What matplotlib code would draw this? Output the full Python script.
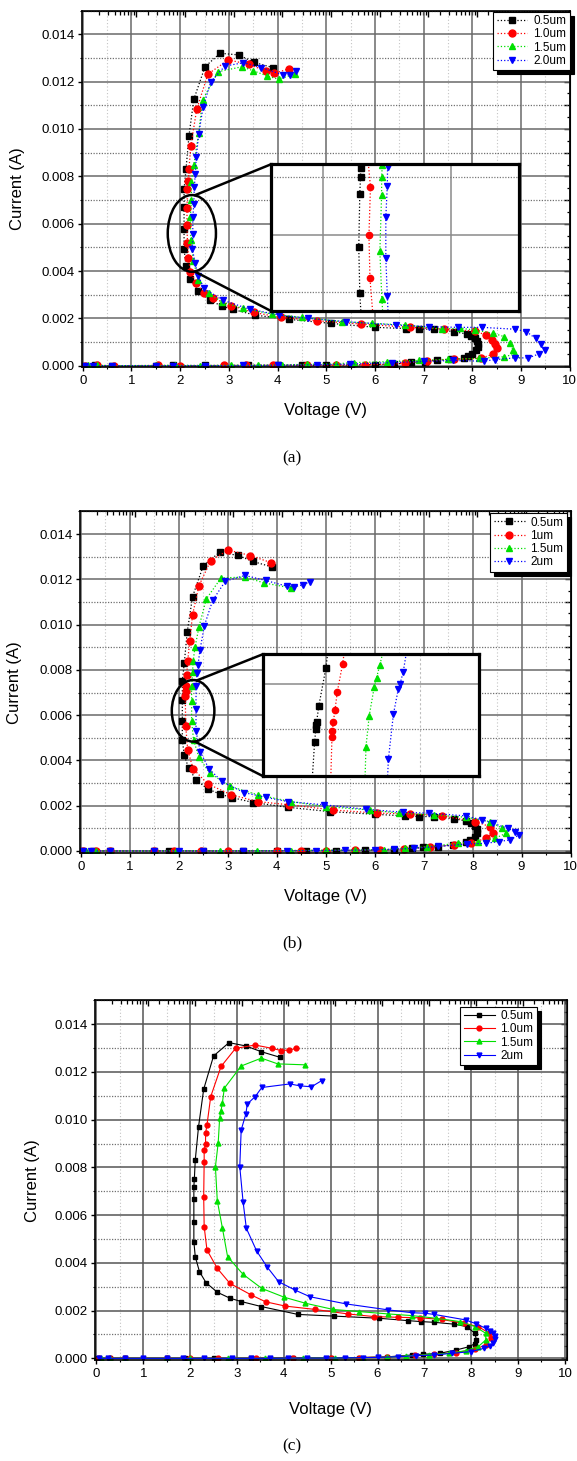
import numpy as np
import matplotlib
matplotlib.use('Agg')
import matplotlib.pyplot as plt
from matplotlib.patches import Ellipse, ConnectionPatch
from matplotlib.ticker import MultipleLocator, FixedLocator, NullFormatter, FormatStrFormatter

plt.rcParams['font.family'] = ['Liberation Sans', 'DejaVu Sans']

# ---------------- data (voltage in V, current in mA) ----------------
labels_a = ['0.5um', '1.0um', '1.5um', '2.0um']
labels_b = ['0.5um', '1um', '1.5um', '2um']
labels_c = ['0.5um', '1.0um', '1.5um', '2um']

colors = ['#000000', '#ff0000', '#00e000', '#0000ff']
markers = ['s', 'o', '^', 'v']

# panel (a)
a_black_v = [0.03, 0.25, 0.6, 1.5, 1.85, 2.5, 3.4, 4.0, 4.5, 5.0, 5.5, 6.0, 6.4, 6.75, 7.03, 7.28, 7.56, 7.83, 7.92, 8.0,
             8.07, 8.12, 8.12, 8.1, 8.05, 7.98, 7.9, 7.62, 7.22, 6.90, 6.63, 6.01, 5.09, 4.23, 3.53, 3.08, 2.85, 2.61,
             2.37, 2.20, 2.12, 2.08, 2.08, 2.08, 2.08, 2.12, 2.18, 2.28, 2.51, 2.82, 3.20, 3.51, 3.91]
a_black_i = [0.0, 0.01, 0.0, 0.0, 0.01, 0.01, 0.01, 0.02, 0.02, 0.02, 0.03, 0.05, 0.07, 0.14, 0.17, 0.24, 0.27, 0.31,
             0.40, 0.50, 0.65, 0.80, 0.92, 1.05, 1.15, 1.25, 1.33, 1.44, 1.54, 1.55, 1.57, 1.62, 1.79, 1.96, 2.14, 2.38,
             2.52, 2.77, 3.17, 3.65, 4.23, 4.92, 5.76, 6.72, 7.46, 8.30, 9.70, 11.25, 12.63, 13.2, 13.13, 12.82, 12.59]
a_red_v = [0.05, 0.3, 0.65, 1.55, 2.0, 2.9, 3.35, 3.9, 4.6, 5.2, 5.8, 6.3, 6.61, 7.07, 7.63, 8.17, 8.43, 8.50, 8.46,
           8.40, 8.28, 8.05, 7.41, 6.73, 5.71, 4.81, 4.08, 3.51, 3.05, 2.68, 2.49, 2.32, 2.21, 2.17, 2.15, 2.14, 2.14,
           2.15, 2.17, 2.18, 2.22, 2.34, 2.57, 2.99, 3.41, 3.76, 3.93, 4.23]
a_red_i = [0.0, 0.01, 0.0, 0.01, 0.0, 0.01, 0.02, 0.02, 0.03, 0.03, 0.04, 0.06, 0.10, 0.21, 0.27, 0.31, 0.49, 0.73, 0.90,
           1.08, 1.30, 1.46, 1.55, 1.62, 1.76, 1.90, 2.04, 2.25, 2.54, 2.85, 3.08, 3.51, 3.97, 4.56, 5.20, 5.94, 6.65,
           7.45, 7.80, 8.30, 9.30, 10.83, 12.32, 12.92, 12.73, 12.45, 12.35, 12.54]
a_green_v = [0.1, 0.3, 0.6, 1.5, 1.9, 2.4, 3.05, 3.6, 4.1, 4.6, 5.2, 5.56, 6.24, 6.9, 7.5, 8.13, 8.65, 8.88, 8.84, 8.77,
             8.65, 8.43, 8.05, 7.75, 7.37, 6.61, 5.93, 5.33, 4.51, 3.89, 3.29, 2.85, 2.59, 2.37, 2.27, 2.22, 2.21, 2.23,
             2.23, 2.28, 2.38, 2.46, 2.78, 3.27, 3.50, 3.79, 4.02, 4.35]
a_green_i = [0.01, 0.02, 0.0, 0.01, 0.02, 0.0, 0.02, 0.02, 0.03, 0.06, 0.08, 0.13, 0.17, 0.22, 0.27, 0.31, 0.38, 0.49,
             0.66, 0.94, 1.23, 1.37, 1.51, 1.58, 1.55, 1.72, 1.79, 1.86, 2.04, 2.18, 2.42, 2.70, 3.06, 3.62, 4.44, 5.30,
             6.30, 7.00, 7.77, 8.48, 9.82, 11.22, 12.42, 12.63, 12.46, 12.24, 12.10, 12.32]
a_blue_v = [0.05, 0.2, 0.6, 1.5, 1.85, 2.5, 3.3, 4.0, 4.8, 5.48, 6.35, 7.0, 7.6, 8.23, 8.47, 8.88, 9.15, 9.37, 9.49,
            9.41, 9.30, 9.11, 8.88, 8.20, 7.71, 7.11, 6.43, 5.40, 4.63, 4.04, 3.44, 2.87, 2.49, 2.37, 2.31, 2.25, 2.26,
            2.26, 2.28, 2.29, 2.31, 2.33, 2.38, 2.47, 2.63, 2.92, 3.30, 3.67, 4.12, 4.25, 4.38]
a_blue_i = [0.0, 0.0, 0.0, 0.0, 0.0, 0.0, 0.01, 0.02, 0.04, 0.07, 0.13, 0.18, 0.22, 0.19, 0.26, 0.33, 0.33, 0.50, 0.66,
            0.90, 1.15, 1.44, 1.54, 1.62, 1.62, 1.65, 1.72, 1.86, 2.00, 2.14, 2.38, 2.77, 3.27, 3.79, 4.32, 4.92, 5.55,
            6.27, 6.83, 7.54, 8.08, 8.80, 9.77, 10.92, 12.00, 12.66, 12.80, 12.59, 12.28, 12.30, 12.45]

# panel (b)
b_black_v = [0.03, 0.25, 0.6, 1.5, 1.8, 2.5, 3.3, 4.0, 4.6, 5.2, 5.8, 6.4, 6.77, 6.99, 7.29, 7.59, 7.86, 7.95, 8.05,
             8.1, 8.1, 8.05, 7.97, 7.86, 7.62, 7.22, 6.90, 6.62, 6.00, 5.08, 4.23, 3.52, 3.08, 2.84, 2.59, 2.35, 2.20,
             2.11, 2.07, 2.07, 2.07, 2.07, 2.11, 2.17, 2.28, 2.50, 2.83, 3.20, 3.51, 3.91]
b_black_i = [0.0, 0.0, 0.0, 0.0, 0.01, 0.0, 0.01, 0.01, 0.02, 0.02, 0.03, 0.06, 0.12, 0.16, 0.19, 0.27, 0.41, 0.48,
             0.60, 0.78, 0.95, 1.10, 1.22, 1.33, 1.42, 1.52, 1.52, 1.55, 1.62, 1.74, 1.93, 2.14, 2.36, 2.51, 2.74, 3.14,
             3.66, 4.22, 4.91, 5.72, 6.68, 7.49, 8.30, 9.67, 11.24, 12.61, 13.19, 13.06, 12.79, 12.54]
b_red_v = [0.05, 0.3, 0.6, 1.5, 1.9, 2.45, 3.0, 4.0, 4.5, 5.0, 5.6, 6.1, 6.6, 7.14, 7.63, 7.97, 8.27, 8.42, 8.35, 8.05,
           7.37, 6.73, 6.05, 5.15, 4.25, 3.61, 3.07, 2.59, 2.29, 2.18, 2.14, 2.13, 2.14, 2.14, 2.16, 2.18, 2.22, 2.28,
           2.41, 2.65, 3.01, 3.46, 3.89]
b_red_i = [0.0, 0.0, 0.0, 0.0, 0.0, 0.01, 0.0, 0.01, 0.02, 0.02, 0.03, 0.05, 0.08, 0.19, 0.27, 0.34, 0.56, 0.78, 1.08,
           1.30, 1.55, 1.64, 1.67, 1.81, 2.04, 2.18, 2.48, 2.96, 3.63, 4.47, 5.50, 6.85, 7.05, 7.30, 7.79, 8.38, 9.26,
           10.44, 11.72, 12.83, 13.29, 13.05, 12.73]
b_green_v = [0.1, 0.3, 0.6, 1.5, 1.95, 2.85, 3.6, 4.3, 5.0, 5.6, 6.2, 6.62, 7.07, 7.71, 8.12, 8.46, 8.68, 8.61, 8.35,
             7.86, 7.22, 6.50, 5.90, 5.00, 4.29, 3.61, 3.05, 2.63, 2.41, 2.30, 2.26, 2.26, 2.26, 2.28, 2.29, 2.33, 2.41,
             2.56, 2.86, 3.35, 3.74, 4.29]
b_green_i = [0.0, 0.0, 0.0, 0.0, 0.01, 0.01, 0.01, 0.02, 0.03, 0.04, 0.06, 0.12, 0.19, 0.34, 0.41, 0.56, 0.78, 1.00,
             1.30, 1.49, 1.59, 1.67, 1.81, 1.96, 2.18, 2.48, 2.85, 3.44, 4.13, 4.90, 5.72, 6.61, 7.27, 7.90, 8.38, 9.00,
             9.90, 11.13, 12.06, 12.10, 11.84, 11.62]
b_blue_v = [0.05, 0.2, 0.6, 1.5, 2.0, 2.5, 3.3, 4.2, 4.8, 5.4, 6.0, 6.4, 6.8, 7.3, 7.89, 8.27, 8.53, 8.76, 8.95, 8.86,
            8.72, 8.42, 8.20, 7.86, 7.11, 6.58, 5.83, 4.96, 4.23, 3.77, 3.33, 2.88, 2.61, 2.44, 2.35, 2.35, 2.35, 2.37,
            2.39, 2.43, 2.52, 2.69, 2.95, 3.35, 3.77, 4.20, 4.36, 4.53, 4.68]
b_blue_i = [0.0, 0.0, 0.0, 0.0, 0.0, 0.0, 0.0, 0.01, 0.02, 0.03, 0.05, 0.08, 0.12, 0.20, 0.31, 0.34, 0.41, 0.49, 0.70,
            0.85, 1.00, 1.22, 1.37, 1.55, 1.67, 1.71, 1.84, 2.04, 2.18, 2.37, 2.58, 3.07, 3.64, 4.37, 5.28, 6.28, 7.27,
            7.86, 8.22, 8.86, 9.95, 11.07, 11.92, 12.17, 11.95, 11.70, 11.67, 11.76, 11.89]

# panel (c)
c_black_v = [0.03, 0.3, 0.6, 1.5, 1.9, 2.5, 3.3, 4.2, 5.0, 5.6, 6.2, 6.74, 6.98, 7.33, 7.68, 7.96, 8.08, 8.11, 8.08,
             7.9, 7.64, 7.21, 6.92, 6.65, 6.03, 5.07, 4.30, 3.52, 3.09, 2.85, 2.58, 2.34, 2.20, 2.11, 2.08, 2.08, 2.08,
             2.08, 2.09, 2.11, 2.18, 2.29, 2.50, 2.83, 3.19, 3.52, 3.91]
c_black_i = [0.0, 0.0, 0.0, 0.0, 0.0, 0.0, 0.0, 0.01, 0.02, 0.03, 0.06, 0.14, 0.17, 0.21, 0.35, 0.49, 0.62, 0.77, 1.05,
             1.33, 1.43, 1.51, 1.54, 1.58, 1.68, 1.77, 1.84, 2.17, 2.38, 2.52, 2.77, 3.17, 3.63, 4.26, 4.89, 5.73, 6.66,
             7.20, 7.50, 8.31, 9.71, 11.28, 12.67, 13.23, 13.09, 12.85, 12.62]
c_red_v = [0.05, 0.3, 0.6, 1.5, 2.0, 2.6, 3.4, 4.2, 5.0, 5.6, 6.2, 6.8, 7.2, 7.68, 8.08, 8.31, 8.43, 8.39, 8.15, 7.84,
           7.37, 6.90, 6.43, 5.92, 5.37, 4.66, 4.03, 3.61, 3.31, 2.85, 2.58, 2.36, 2.30, 2.29, 2.30, 2.30, 2.33, 2.33,
           2.36, 2.44, 2.66, 2.97, 3.39, 3.75, 3.94, 4.11, 4.27]
c_red_i = [0.0, 0.0, 0.0, 0.0, 0.0, 0.0, 0.0, 0.01, 0.02, 0.03, 0.06, 0.12, 0.17, 0.24, 0.38, 0.56, 0.84, 1.05, 1.33,
           1.47, 1.63, 1.70, 1.72, 1.75, 1.86, 2.05, 2.19, 2.37, 2.65, 3.14, 3.77, 4.54, 5.52, 6.78, 8.24, 8.73, 9.00,
           9.43, 9.78, 10.97, 12.23, 12.99, 13.13, 12.99, 12.90, 12.92, 12.99]
c_green_v = [0.1, 0.3, 0.6, 1.5, 2.0, 2.8, 3.6, 4.4, 5.1, 5.7, 6.2, 6.6, 7.1, 7.53, 7.88, 8.15, 8.31, 8.31, 8.08, 7.76,
             7.25, 6.74, 6.23, 5.60, 5.05, 4.46, 4.01, 3.53, 3.13, 2.80, 2.69, 2.58, 2.54, 2.60, 2.63, 2.66, 2.69, 2.73,
             3.09, 3.52, 3.87, 4.45]
c_green_i = [0.0, 0.0, 0.0, 0.0, 0.0, 0.0, 0.0, 0.01, 0.02, 0.03, 0.05, 0.10, 0.16, 0.21, 0.32, 0.49, 0.77, 1.05, 1.33,
             1.54, 1.68, 1.79, 1.86, 1.96, 2.05, 2.31, 2.56, 2.93, 3.52, 4.26, 5.45, 6.61, 8.03, 9.04, 10.06, 10.38,
             10.72, 11.32, 12.25, 12.58, 12.34, 12.30]
c_blue_v = [0.05, 0.25, 0.6, 1.0, 1.5, 1.85, 2.3, 2.9, 3.3, 3.7, 4.1, 4.5, 4.9, 5.3, 5.7, 6.0, 6.43, 6.82, 7.21, 7.60,
            7.99, 8.27, 8.40, 8.47, 8.51, 8.50, 8.47, 8.40, 8.31, 8.10, 7.88, 7.21, 7.01, 6.74, 6.23, 5.33, 4.56, 4.24,
            3.89, 3.64, 3.42, 3.20, 3.13, 3.06, 3.09, 3.19, 3.22, 3.39, 3.53, 4.13, 4.34, 4.59, 4.81]
c_blue_i = [0.0, 0.0, 0.0, 0.0, 0.0, 0.0, 0.0, 0.0, 0.0, 0.0, 0.01, 0.01, 0.01, 0.02, 0.03, 0.04, 0.07, 0.11, 0.14, 0.21,
            0.28, 0.42, 0.52, 0.63, 0.80, 0.95, 1.05, 1.16, 1.26, 1.45, 1.61, 1.84, 1.89, 1.91, 2.03, 2.28, 2.58, 2.86,
            3.21, 3.84, 4.50, 5.45, 6.57, 8.03, 9.57, 10.24, 10.66, 10.97, 11.35, 11.50, 11.42, 11.38, 11.64]

# zoomed insets
ia_black_v = [2.115, 2.112, 2.111, 2.108, 2.104, 2.108, 2.114]
ia_black_i = [7.36, 7.13, 6.93, 6.56, 5.39, 4.39, 3.84]
ia_red_v = [2.140, 2.151, 2.145, 2.149, 2.162]
ia_red_i = [7.36, 6.71, 5.65, 4.71, 3.84]
ia_green_v = [2.200, 2.199, 2.196, 2.196, 2.189, 2.197, 2.202]
ia_green_i = [7.36, 7.18, 6.93, 6.54, 5.30, 4.26, 3.84]
ia_blue_v = [2.222, 2.220, 2.219, 2.213, 2.213, 2.219, 2.223]
ia_blue_i = [7.36, 7.15, 6.73, 6.05, 5.15, 4.33, 3.84]

ib_black_v = [2.121, 2.111, 2.083, 2.074, 2.072, 2.071, 2.066, 2.056]
ib_black_i = [7.66, 7.20, 6.36, 6.00, 5.93, 5.84, 5.55, 4.67]
ib_red_v = [2.187, 2.177, 2.156, 2.147, 2.140, 2.137, 2.135, 2.130]
ib_red_i = [7.66, 7.28, 6.66, 6.26, 5.99, 5.80, 5.67, 4.67]
ib_green_v = [2.342, 2.325, 2.312, 2.303, 2.283, 2.270, 2.266]
ib_green_i = [7.66, 7.26, 6.98, 6.78, 6.14, 5.45, 4.67]
ib_blue_v = [2.434, 2.418, 2.405, 2.398, 2.379, 2.359, 2.355]
ib_blue_i = [7.66, 7.11, 6.84, 6.72, 6.17, 5.17, 4.67]

W, H = 577, 1461
fig = plt.figure(figsize=(W / 100, H / 100), dpi=100)


def px_axes(left, top, right, bottom):
    return fig.add_axes([left / W, 1 - bottom / H, (right - left) / W, (bottom - top) / H])


def style(ax, xlim, ylim, major_c='#6a6a6a'):
    ax.set_xlim(*xlim)
    ax.set_ylim(*ylim)
    ax.xaxis.set_major_locator(MultipleLocator(1))
    ax.xaxis.set_minor_locator(MultipleLocator(0.5))
    ax.yaxis.set_major_locator(MultipleLocator(0.002))
    ax.yaxis.set_minor_locator(MultipleLocator(0.001))
    ax.yaxis.set_major_formatter(FormatStrFormatter('%.3f'))
    ax.xaxis.set_major_formatter(FormatStrFormatter('%d'))
    ax.grid(which='major', color=major_c, lw=1.1, ls='-')
    ax.grid(which='minor', axis='x', color='#c4c4c4', lw=0.8, ls=(0, (1, 2)))
    ax.grid(which='minor', axis='y', color='#707070', lw=0.9, ls=(0, (1, 1.2)))
    ax.set_axisbelow(True)
    ax.tick_params(which='major', direction='out', length=3, width=1, labelsize=9.5, pad=2.5)
    ax.tick_params(which='minor', direction='out', length=1.5, width=0.8)
    for s in ax.spines.values():
        s.set_linewidth(1.2)
    top = ax.secondary_xaxis('top')
    top_major = [i + 1.1 for i in range(9)]
    top_minor = [i + 1.1 * np.log10(k) for i in range(10) for k in range(2, 10) if i + 1.1 * np.log10(k) < 10]
    top.xaxis.set_major_locator(FixedLocator(top_major))
    top.xaxis.set_minor_locator(FixedLocator(top_minor))
    top.xaxis.set_major_formatter(NullFormatter())
    top.tick_params(which='major', direction='in', length=4.5, width=1)
    top.tick_params(which='minor', direction='in', length=3, width=0.9)
    right = ax.secondary_yaxis('right')
    right.yaxis.set_major_locator(MultipleLocator(0.001))
    right.yaxis.set_minor_locator(MultipleLocator(0.0005))
    right.yaxis.set_major_formatter(NullFormatter())
    right.tick_params(which='major', direction='in', length=4, width=1)
    right.tick_params(which='minor', direction='in', length=2.5, width=0.9)


def labels(ax, xl_y, yl_x):
    ax.set_xlabel('Voltage (V)', fontsize=12)
    ax.set_ylabel('Current (A)', fontsize=12)
    ax.xaxis.label.set_va('center')
    ax.yaxis.label.set_va('center')
    ax.xaxis.set_label_coords(0.5, xl_y)
    ax.yaxis.set_label_coords(yl_x, 0.5)


def legend(ax, labs, anchor):
    leg = ax.legend(labs, loc='upper right', bbox_to_anchor=(anchor[0] / W, 1 - anchor[1] / H),
                    bbox_transform=fig.transFigure, borderaxespad=0, fontsize=8.5, frameon=True,
                    fancybox=False, framealpha=1, edgecolor='black', handlelength=2.6,
                    labelspacing=0.1, borderpad=0.3, handletextpad=0.5,
                    shadow={'ox': 3, 'oy': -3, 'facecolor': 'black', 'edgecolor': 'black', 'alpha': 1})
    leg.get_frame().set_linewidth(0.8)
    return leg


def inset(rect, xlim, ylim, series, vgrid, hgrid):
    ins = px_axes(*rect)
    for (v, i), c, m in zip(series, colors, markers):
        ins.plot(v, np.array(i) * 1e-3, ls=':', lw=0.9, color=c, marker=m, ms=4.5, mec=c, mfc=c)
    ins.set_xlim(*xlim)
    ins.set_ylim(*ylim)
    for f, style_ in vgrid:
        ins.axvline(xlim[0] + f * (xlim[1] - xlim[0]), **style_, zorder=0)
    for f, style_ in hgrid:
        ins.axhline(ylim[0] + f * (ylim[1] - ylim[0]), **style_, zorder=0)
    ins.set_xticks([])
    ins.set_yticks([])
    for s in ins.spines.values():
        s.set_linewidth(2.3)
    return ins


solid_g = dict(color='#8a8a8a', lw=1.1, ls='-')
dot_dark = dict(color='#7a7a7a', lw=0.9, ls=(0, (1, 1.2)))
dot_light = dict(color='#bdbdbd', lw=0.8, ls=(0, (2, 2)))

# ---------------- panel (a) ----------------
ax_a = px_axes(82, 10.65, 569.7, 367)
series_a = [(a_black_v, a_black_i), (a_red_v, a_red_i), (a_green_v, a_green_i), (a_blue_v, a_blue_i)]
for (v, i), c, m in zip(series_a, colors, markers):
    ax_a.plot(v, np.array(i) * 1e-3, ls=':', lw=0.9, color=c, marker=m, ms=5, mec=c, mfc=c)
style(ax_a, (-0.016, 10.0), (-0.000055, 0.015))
labels(ax_a, -0.1226, -0.132)
legend(ax_a, labels_a, (569.7, 11.7))
ax_a.add_patch(Ellipse((2.24, 0.00559), 0.99, 0.00324, fill=False, ec='black', lw=1.8, zorder=6))
ins_a = inset((271, 164.3, 519, 311), (1.75, 2.75), (0.0040, 0.0072),
              [(ia_black_v, ia_black_i), (ia_red_v, ia_red_i), (ia_green_v, ia_green_i), (ia_blue_v, ia_blue_i)],
              [(0.209, solid_g), (0.727, solid_g)],
              [(0.52, solid_g), (0.915, dot_dark), (0.13, dot_dark)])
for xy_main, xy_ins in [((2.30, 0.00720), (0, 1)), ((2.30, 0.00398), (0, 0))]:
    fig.add_artist(ConnectionPatch(xyA=xy_main, coordsA=ax_a.transData, xyB=xy_ins, coordsB=ins_a.transAxes,
                                   color='black', lw=1.8))

# ---------------- panel (b) ----------------
ax_b = px_axes(80.2, 511.4, 570.5, 853)
series_b = [(b_black_v, b_black_i), (b_red_v, b_red_i), (b_green_v, b_green_i), (b_blue_v, b_blue_i)]
for (v, i), c, m in zip(series_b, colors, markers):
    ax_b.plot(v, np.array(i) * 1e-3, ls=':', lw=0.9, color=c, marker=m, ms=5, mec=c, mfc=c)
style(ax_b, (-0.016, 10.0), (-0.00009, 0.015))
labels(ax_b, -0.126, -0.134)
legend(ax_b, labels_b, (567, 513))
ax_b.add_patch(Ellipse((2.29, 0.00619), 0.87, 0.00272, fill=False, ec='black', lw=1.8, zorder=6))
ins_b = inset((262.7, 654.3, 479.3, 776), (1.86, 2.72), (0.0048, 0.0075),
              [(ib_black_v, ib_black_i), (ib_red_v, ib_red_i), (ib_green_v, ib_green_i), (ib_blue_v, ib_blue_i)],
              [(0.292, solid_g), (0.725, dot_light)],
              [(0.756, solid_g), (0.386, dot_dark)])
for xy_main, xy_ins in [((2.364, 0.00753), (0, 1)), ((2.33, 0.00483), (0, 0))]:
    fig.add_artist(ConnectionPatch(xyA=xy_main, coordsA=ax_b.transData, xyB=xy_ins, coordsB=ins_b.transAxes,
                                   color='black', lw=1.8))

# ---------------- panel (c) ----------------
ax_c = px_axes(95, 1000.4, 566.8, 1360)
series_c = [(c_black_v, c_black_i), (c_red_v, c_red_i), (c_green_v, c_green_i), (c_blue_v, c_blue_i)]
for (v, i), c, m in zip(series_c, colors, markers):
    ax_c.plot(v, np.array(i) * 1e-3, ls='-', lw=0.8, color=c, marker=m, ms=3.5, mec=c, mfc=c)
style(ax_c, (-0.03, 10.04), (-0.00007, 0.015), major_c='#555555')
labels(ax_c, -0.139, -0.132)
legend(ax_c, labels_c, (537, 1006.7))

for txt, y in [('(a)', 458), ('(b)', 943), ('(c)', 1446)]:
    fig.text(0.506, 1 - y / H, txt, ha='center', va='center', fontsize=12.5, family=['Liberation Serif', 'DejaVu Serif'])

fig.savefig('out.png', dpi=100)
